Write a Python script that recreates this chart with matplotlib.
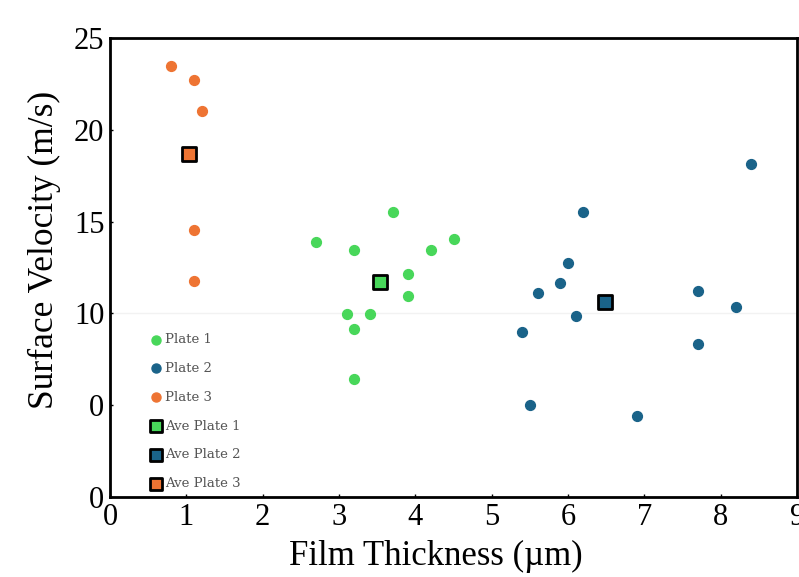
import numpy as np
import matplotlib.pyplot as plt

# Plate 1 (green)
p1_x = [2.7, 3.2, 3.7, 4.5, 4.2, 3.9, 3.9, 3.1, 3.4, 3.2, 3.2]
p1_y = [13.9, 13.45, 15.55, 14.05, 13.45, 12.15, 10.95, 9.95, 9.95, 9.15, 6.45]
# Plate 2 (blue)
p2_x = [8.4, 6.2, 6.0, 5.9, 5.6, 7.7, 8.2, 6.1, 5.4, 7.7, 5.5, 6.9]
p2_y = [18.15, 15.55, 12.75, 11.65, 11.1, 11.2, 10.35, 9.85, 9.0, 8.35, 5.0, 4.4]
# Plate 3 (orange)
p3_x = [0.8, 1.1, 1.2, 1.1, 1.1]
p3_y = [23.45, 22.7, 21.05, 14.55, 11.75]
# averages
ave_x = [3.53, 6.48, 1.03]
ave_y = [11.7, 10.6, 18.7]

colors = ['#48d75a', '#1a6389', '#ee7433']
yticks = [0, 5, 10, 15, 20, 25]
ytick_labels = ['0', '0', '10', '15', '20', '25']

fig = plt.figure(figsize=(7.99, 5.77), dpi=100)
ax = fig.add_axes([0.1377, 0.1386, 0.86, 0.7955])

ax.axhline(10, color='#f2f2f2', lw=1, zorder=0)

ax.scatter(p1_x, p1_y, s=50, color=colors[0], label='Plate 1', zorder=3)
ax.scatter(p2_x, p2_y, s=50, color=colors[1], label='Plate 2', zorder=3)
ax.scatter(p3_x, p3_y, s=50, color=colors[2], label='Plate 3', zorder=3)
for i in range(3):
    ax.scatter(ave_x[i], ave_y[i], s=90, marker='s', color=colors[i],
               edgecolors='black', linewidths=2, label='Ave Plate %d' % (i + 1), zorder=4)

ax.set_xlim(0, 9)
ax.set_ylim(0, 25)
ax.set_xticks(range(10))
ax.set_yticks(yticks)
ax.set_yticklabels(ytick_labels)
ax.tick_params(direction='in', length=2, width=1, labelsize=22, pad=4)
for lab in ax.get_xticklabels() + ax.get_yticklabels():
    lab.set_family('Liberation Serif')
for s in ax.spines.values():
    s.set_linewidth(2)

ax.set_xlabel('Film Thickness (\u00b5m)', fontsize=25, family='Liberation Serif')
ax.set_ylabel('Surface Velocity (m/s)', fontsize=25.5, family='Liberation Serif')
ax.xaxis.set_label_coords(0.4745, -0.093)
ax.yaxis.set_label_coords(-0.072, 0.538)

leg = ax.legend(loc='lower left', bbox_to_anchor=(0.04, -0.011), frameon=False,
                prop={'family': 'DejaVu Serif', 'size': 9.5}, labelspacing=1.2,
                handletextpad=0.2, handlelength=1.0, markerscale=0.92, labelcolor='#555555')

fig.savefig('out.png', dpi=100)
